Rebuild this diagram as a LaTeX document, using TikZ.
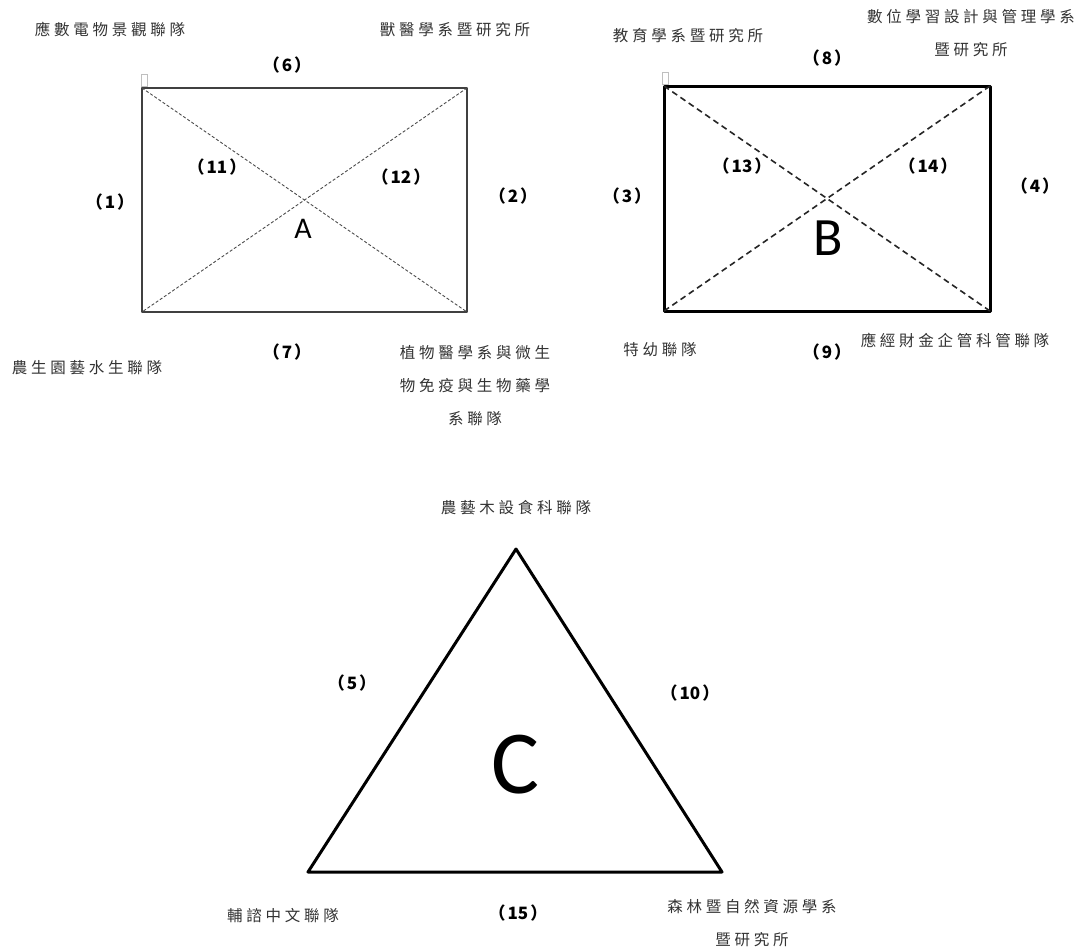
\documentclass[tikz,border=0pt]{standalone}
\usepackage{fontspec}
\newfontfamily\cjk[LetterSpace=24]{Noto Sans CJK TC}
\newfontfamily\num{Noto Sans CJK TC}
\newfontfamily\lat{Carlito}
\newcommand{\pn}[1]{（\hspace{2pt}#1\hspace{2pt}）}
\begin{document}
\begin{tikzpicture}[x=1pt,y=-1pt,
  lbl/.style={font=\cjk\fontsize{15.5}{33}\selectfont, text=black!80, inner sep=0pt, align=center},
  numl/.style={font=\num\bfseries\fontsize{17}{18}\selectfont, inner sep=0pt},
  shapeA/.style={draw=black!75, line width=1.6pt, line join=round},
  shapeB/.style={draw=black, line width=3pt, line join=round},
  diagA/.style={draw=black!70, line width=0.9pt, dash pattern=on 3pt off 2pt},
  diagB/.style={draw=black!85, line width=1.6pt, dash pattern=on 6pt off 4pt},
  marker/.style={draw=black!25, line width=0.5pt}]
\useasboundingbox (0,0) rectangle (1086,950);
\fill[white] (0,0) rectangle (1086,950);
% Rectangle A
\coordinate (a1) at (142,88); \coordinate (a2) at (467,88);
\coordinate (a3) at (467,312); \coordinate (a4) at (142,312);
\draw[marker] (141,74) rectangle (147,86);
\draw[shapeA] (a1) -- (a2) -- (a3) -- (a4) -- cycle;
\draw[diagA] (a1) -- (a3);
\draw[diagA] (a2) -- (a4);
% Rectangle B
\coordinate (b1) at (664,86); \coordinate (b2) at (990,86);
\coordinate (b3) at (990,311); \coordinate (b4) at (664,311);
\draw[marker] (662,72) rectangle (668,84);
\draw[shapeB] (b1) -- (b2) -- (b3) -- (b4) -- cycle;
\draw[diagB] (b1) -- (b3);
\draw[diagB] (b2) -- (b4);
% Triangle C
\coordinate (c1) at (516,549); \coordinate (c2) at (722,872); \coordinate (c3) at (308,872);
\draw[shapeB] (c1) -- (c2) -- (c3) -- cycle;
% Letters
\node[font=\lat\fontsize{30}{30}\selectfont, inner sep=0pt] (A) at (303,229) {A};
\node[font=\lat\fontsize{54}{54}\selectfont, inner sep=0pt] (B) at (828,238) {B};
\node[font=\lat\fontsize{90}{90}\selectfont, inner sep=0pt] (C) at (515,765) {C};
% Numbers
\node[numl] (n1) at (110,202) {\pn{1}};
\node[numl] (n2) at (513,196) {\pn{2}};
\node[numl] (n3) at (627,196) {\pn{3}};
\node[numl] (n4) at (1035,186) {\pn{4}};
\node[numl] (n5) at (352,683) {\pn{5}};
\node[numl] (n6) at (287,65) {\pn{6}};
\node[numl] (n7) at (287,352) {\pn{7}};
\node[numl] (n8) at (827,58) {\pn{8}};
\node[numl] (n9) at (827,352) {\pn{9}};
\node[numl] (n10) at (690,693) {\pn{10}};
\node[numl] (n11) at (217,167) {\pn{11}};
\node[numl] (n12) at (401,177) {\pn{12}};
\node[numl] (n13) at (742,166) {\pn{13}};
\node[numl] (n14) at (928,166) {\pn{14}};
\node[numl] (n15) at (518,913) {\pn{15}};
% CJK labels
\node[lbl] (t1) at (110,30) {應數電物景觀聯隊};
\node[lbl] (t2) at (455,30) {獸醫學系暨研究所};
\node[lbl] (t3) at (87,368) {農生園藝水生聯隊};
\node[lbl] (t4) at (475,386) {植物醫學系與微生\\物免疫與生物藥學\\系聯隊};
\node[lbl] (t5) at (688,36) {教育學系暨研究所};
\node[lbl] (t6) at (971,33) {數位學習設計與管理學系\\暨研究所};
\node[lbl] (t7) at (660,350) {特幼聯隊};
\node[lbl] (t8) at (955,341) {應經財金企管科管聯隊};
\node[lbl] (t9) at (516,508) {農藝木設食科聯隊};
\node[lbl] (t10) at (283,916) {輔諮中文聯隊};
\node[lbl] (t11) at (752,923) {森林暨自然資源學系\\暨研究所};
\end{tikzpicture}
\end{document}
